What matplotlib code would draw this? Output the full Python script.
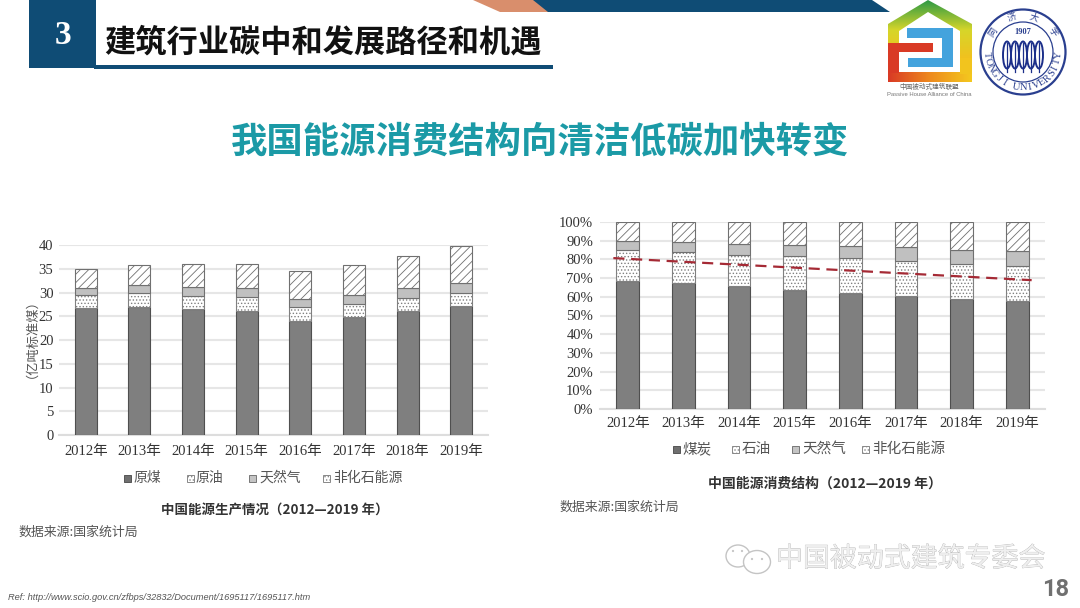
# 建筑行业碳中和 slide: 能源生产 / 消费结构 堆叠柱状图

import numpy as np
import matplotlib
matplotlib.use('Agg')
import matplotlib.pyplot as plt
from matplotlib.patches import Polygon, Rectangle, Circle, Ellipse
from matplotlib.colors import LinearSegmentedColormap
import matplotlib.patheffects as pe

plt.rcParams['hatch.linewidth'] = 0.6

SANS = ['Noto Sans CJK SC', 'DejaVu Sans']
SERIF = ['Liberation Serif', 'Noto Sans CJK SC']

# データ
years = ['2012年', '2013年', '2014年', '2015年', '2016年', '2017年', '2018年', '2019年']

prod_names = ['原煤', '原油', '天然气', '非化石能源']
prod_coal = [26.7, 27.0, 26.5, 26.2, 24.1, 24.9, 26.2, 27.2]
prod_oil = [2.9, 2.9, 2.9, 2.8, 2.8, 2.8, 2.7, 2.7]
prod_gas = [1.5, 1.7, 1.9, 1.9, 1.8, 1.8, 2.0, 2.1]
prod_other = [4.0, 4.2, 4.8, 5.2, 5.8, 6.3, 6.8, 7.8]
prod_ticks = [0, 5, 10, 15, 20, 25, 30, 35, 40]

cons_names = ['煤炭', '石油', '天然气', '非化石能源']
cons_coal = [68.5, 67.4, 65.8, 63.7, 62.2, 60.4, 58.7, 57.8]
cons_oil = [16.7, 16.8, 16.8, 18.0, 18.4, 18.7, 18.9, 18.9]
cons_gas = [4.8, 5.3, 5.8, 6.2, 6.4, 7.4, 7.6, 7.6]
cons_other = [10.0, 10.5, 11.6, 12.1, 13.0, 13.5, 14.8, 15.7]
cons_ticks = [0, 10, 20, 30, 40, 50, 60, 70, 80, 90, 100]

trend_x = [-0.26, 7.26]
trend_y = [80.7, 68.9]

W, H = 1080, 608
fig = plt.figure(figsize=(W / 100, H / 100), dpi=100, facecolor='white')


def axes_px(x0, y0, x1, y1):
    return fig.add_axes([x0 / W, 1 - y1 / H, (x1 - x0) / W, (y1 - y0) / H])


def stacked(ax, series, ticks, width):
    x = np.arange(len(years))
    styles = [
        dict(facecolor='#7f7f7f', edgecolor='#4f4f4f'),
        dict(facecolor='white', edgecolor='#808080', hatch='.....'),
        dict(facecolor='#c0c0c0', edgecolor='#707070'),
        dict(facecolor='white', edgecolor='#707070', hatch='////'),
    ]
    bottom = np.zeros(len(years))
    for vals, st in zip(series, styles):
        ax.bar(x, vals, width, bottom=bottom, linewidth=0.8, zorder=3, **st)
        bottom += np.array(vals)
    ax.set_xlim(-0.5, len(years) - 0.5)
    ax.set_ylim(0, ticks[-1])
    ax.set_yticks(ticks)
    ax.set_xticks(x)
    ax.grid(True, axis='y', color='#e6e6e6', linewidth=1.5, zorder=0)
    ax.set_axisbelow(True)
    for s in ['top', 'left', 'right']:
        ax.spines[s].set_visible(False)
    ax.spines['bottom'].set_color('#dddddd')
    ax.spines['bottom'].set_linewidth(1.5)
    ax.tick_params(length=0)


# 左: 能源生产
ax1 = axes_px(59, 245.3, 488, 435)
stacked(ax1, [prod_coal, prod_oil, prod_gas, prod_other], prod_ticks, 0.41)
ax1.set_xticklabels(years, family=SERIF, fontsize=10.5, color='#333333')
ax1.set_yticklabels([str(t) for t in prod_ticks], family=SERIF, fontsize=10.5, color='#333333')
ax1.tick_params(axis='x', pad=7)
ax1.tick_params(axis='y', pad=4)

# 右: 能源消费结构
ax2 = axes_px(600, 222, 1045, 409)
stacked(ax2, [cons_coal, cons_oil, cons_gas, cons_other], cons_ticks, 0.41)
ax2.plot(trend_x, trend_y, color='#a52a35', linewidth=1.6, linestyle=(0, (5, 3)), zorder=5)
ax2.set_xticklabels(years, family=SERIF, fontsize=10.5, color='#333333')
ax2.set_yticklabels([f'{t}%' for t in cons_ticks], family=SERIF, fontsize=10.5, color='#333333')
ax2.tick_params(axis='x', pad=6)
ax2.tick_params(axis='y', pad=5)

# 全体の装飾 (ピクセル座標)
bg = fig.add_axes([0, 0, 1, 1], zorder=10)
bg.patch.set_alpha(0)

# legend は小さい四角と文字で描く
leg_styles = [
    dict(facecolor='#6f6f6f', edgecolor='#555555'),
    dict(facecolor='white', edgecolor='#888888', hatch='.....'),
    dict(facecolor='#c4c4c4', edgecolor='#777777'),
    dict(facecolor='white', edgecolor='#888888', hatch='.....'),
]
for names, box_x, text_x, yy, fs in [
    (prod_names, [124, 187, 249, 323], [134, 196, 259, 333], 478, 10),
    (cons_names, [673, 732, 792, 862], [682, 742, 802, 872], 449, 10.5),
]:
    for name, bx, tx, st in zip(names, box_x, text_x, leg_styles):
        bg.add_patch(Rectangle((bx, yy - 3.5), 7, 7, linewidth=0.7, **st))
        bg.text(tx, yy, name, family=SANS, fontsize=fs, color='#555555', va='center', ha='left')

bg.text(25, 332, '（亿吨标准煤）', family=SANS, fontsize=9.5, color='#555555',
        rotation=90, ha='center', va='center')
bg.text(275, 510, '中国能源生产情况（2012—2019 年）', family=SANS, fontsize=9.7, weight='bold',
        color='#333333', ha='center', va='center')
bg.text(18, 532, '数据来源:国家统计局', family=SANS, fontsize=9.3, color='#555555', va='center')
bg.text(825, 484, '中国能源消费结构（2012—2019 年）', family=SANS, fontsize=10, weight='bold',
        color='#333333', ha='center', va='center')
bg.text(559, 507, '数据来源:国家统计局', family=SANS, fontsize=9.3, color='#555555', va='center')

# ヘッダー
blue = '#0f4c75'
bg.add_patch(Rectangle((29, 0), 67, 68, color=blue, linewidth=0))
bg.add_patch(Rectangle((94, 65), 459, 3.5, color=blue, linewidth=0))
bg.add_patch(Polygon([(473, 0), (551, 0), (551, 12), (500, 12)], color='#d98e6c', linewidth=0))
bg.add_patch(Polygon([(533, 0), (872, 0), (890, 12), (548, 12)], color=blue, linewidth=0))
bg.text(63, 35, '3', family=['Liberation Serif'], fontsize=24, color='white', weight='bold',
        ha='center', va='center')
bg.text(104, 42, '建筑行业碳中和发展路径和机遇', family=SANS, fontsize=22.5, weight='bold',
        color='#111111', va='center')
bg.text(540.5, 142, '我国能源消费结构向清洁低碳加快转变', family=SANS, fontsize=26.2, weight='bold',
        color='#1b9aa6', ha='center', va='center')

# 被动式建筑联盟 logo: 屋根は緑→黄のグラデーション
grad = LinearSegmentedColormap.from_list('house', ['#2f9a45', '#d6d62a', '#f2c01e'])
ramp = np.linspace(0, 1, 64).reshape(-1, 1)
im = bg.imshow(ramp, extent=(888, 972, 60, 0), cmap=grad, aspect='auto', zorder=1)
im.set_clip_path(Polygon([(888, 24), (928, 0), (972, 24), (972, 60), (960, 60), (960, 31), (928, 12),
                          (899, 31), (899, 43), (888, 43)], transform=bg.transData))
fire = LinearSegmentedColormap.from_list('base', ['#d93a25', '#ee8a1e', '#f4c81e'])
bg.imshow(np.linspace(0, 1, 64).reshape(1, -1), extent=(888, 972, 82, 72), cmap=fire, aspect='auto', zorder=1)
bg.add_patch(Rectangle((960, 58), 12, 16, color='#f2c41e', linewidth=0, zorder=1))
bg.add_patch(Polygon([(888, 43), (933, 43), (933, 52), (899, 52), (899, 73), (888, 73)],
                     color='#d93a25', linewidth=0, zorder=2))
bg.add_patch(Polygon([(907, 28), (953, 28), (953, 67), (908, 67), (908, 58), (942, 58), (942, 38), (907, 38)],
                     color='#44a3dd', linewidth=0, zorder=2))
bg.text(929, 87, '中国被动式建筑联盟', family=SANS, fontsize=4.8, color='#666666', ha='center', va='center')
bg.text(929, 94, 'Passive House Alliance of China', family=['Liberation Sans'], fontsize=4.2,
        color='#777777', ha='center', va='center')

# 同济大学 校章
cx, cy = 1023, 52
seal = '#2a3f8f'
for r, lw in [(42.5, 1.6), (30, 0.9)]:
    bg.add_patch(Circle((cx, cy), r, fill=False, edgecolor=seal, linewidth=lw))
for ch, a in zip('TONGJI UNIVERSITY', np.linspace(175, 5, 17)):
    rad = np.deg2rad(a)
    bg.text(cx + 36 * np.cos(rad), cy + 36 * np.sin(rad), ch, family=['Liberation Serif'],
            fontsize=7.5, color=seal, rotation=90 - a, ha='center', va='center')
for ch, a in zip('同济大学', [-146, -108, -72, -34]):
    rad = np.deg2rad(a)
    bg.text(cx + 36 * np.cos(rad), cy + 36 * np.sin(rad), ch, family=SANS,
            fontsize=6.5, color=seal, rotation=-a - 90, ha='center', va='center')
bg.text(cx, cy - 20, '1907', family=['Liberation Serif'], fontsize=6, weight='bold', color=seal,
        ha='center', va='center')
for dx in [-16, -8, 0, 8, 16]:
    bg.add_patch(Ellipse((cx + dx, cy + 3), 8, 27, fill=False, edgecolor='#1c2f8a', linewidth=1.4))
    bg.plot([cx + dx, cx + dx], [cy - 9, cy + 20], color='#1c2f8a', linewidth=0.9)

# 水印・フッター
wm = [pe.withStroke(linewidth=0.4, foreground='#a8a8a8')]
for ex, ey, ew, eh in [(738, 556, 24, 22), (757, 562, 27, 23)]:
    bg.add_patch(Ellipse((ex, ey), ew, eh, facecolor='white', edgecolor='#c4c4c4', linewidth=1.0))
for ex, ey in [(733, 551), (742, 551), (752, 559), (762, 559)]:
    bg.add_patch(Circle((ex, ey), 1.1, color='#c4c4c4', linewidth=0))
bg.text(776, 559, '中国被动式建筑专委会', family=SANS, fontsize=19.4, color='#efefef', va='center',
        path_effects=wm)
bg.text(1056, 590, '18', family=['Roboto', 'DejaVu Sans'], fontsize=17, weight='bold', color='#707070',
        ha='center', va='center')
bg.text(8, 598, 'Ref: http://www.scio.gov.cn/zfbps/32832/Document/1695117/1695117.htm',
        family=['Liberation Sans'], fontsize=6.7, style='italic', color='#555555', va='center')

bg.set_xlim(0, W)
bg.set_ylim(H, 0)
bg.axis('off')

fig.savefig('out.png', dpi=100, facecolor='white')
